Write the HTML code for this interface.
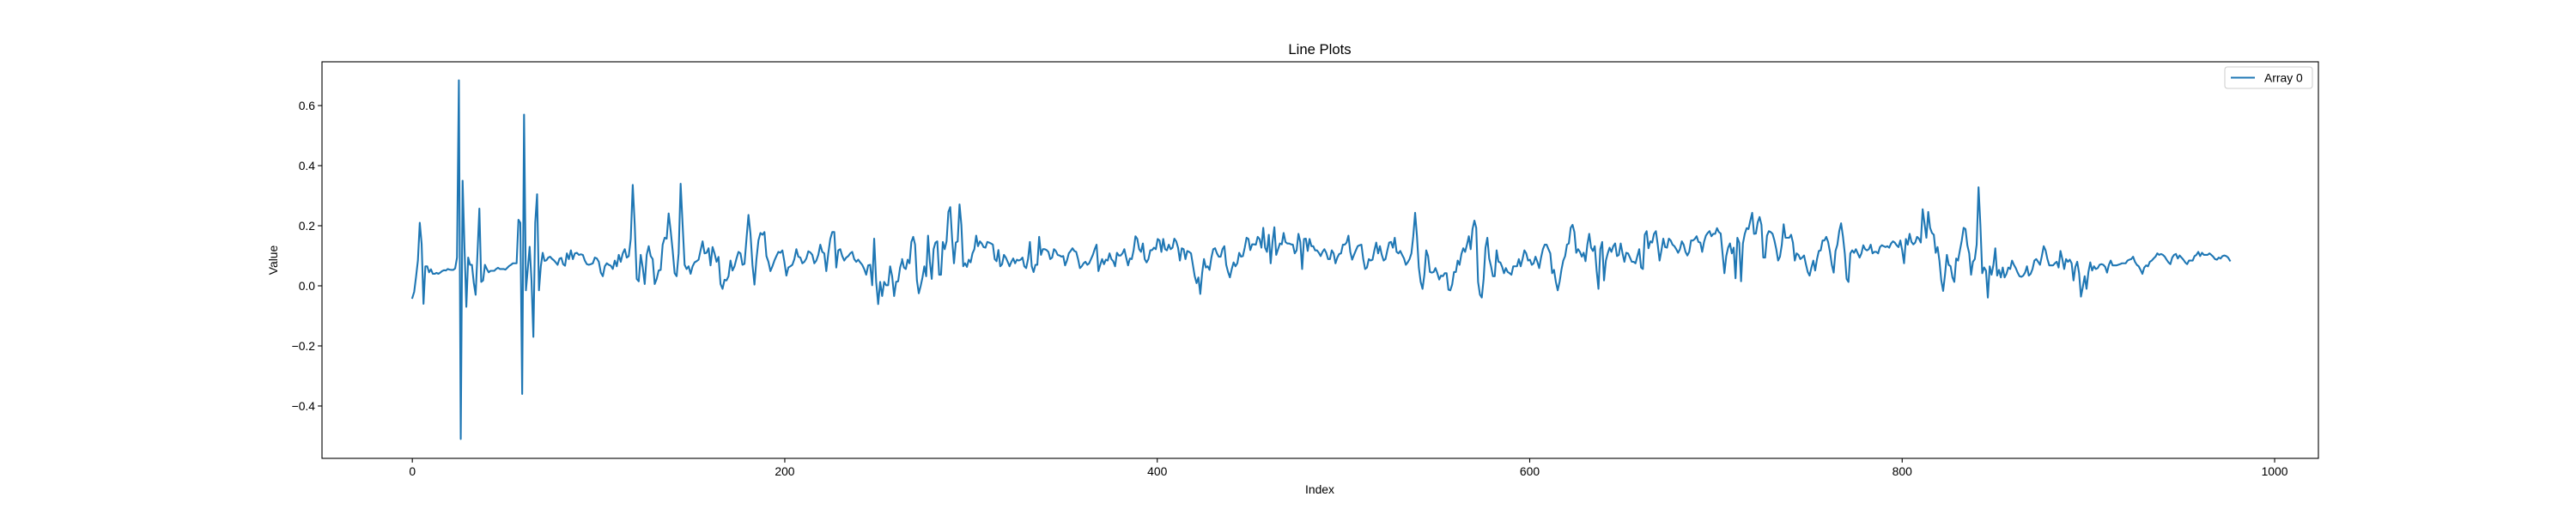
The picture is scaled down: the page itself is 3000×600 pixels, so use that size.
<!DOCTYPE html>
<html><head><meta charset="utf-8"><title>Line Plots</title>
<style>
html,body{margin:0;padding:0;background:#fff;}
svg{display:block;font-family:"Liberation Sans","DejaVu Sans",sans-serif;}
</style></head>
<body>
<svg id="chart" width="3000" height="600" viewBox="0 0 3000 600" xmlns="http://www.w3.org/2000/svg">
<rect x="0" y="0" width="3000" height="600" fill="#fff"/>
<text x="1537" y="63" text-anchor="middle" font-size="16.7" fill="#000">Line Plots</text>
<g id="xticks"></g>
<g id="yticks"></g>
<text x="1537" y="575" text-anchor="middle" font-size="13.9" fill="#000">Index</text>
<text x="0" y="0" transform="translate(323,303) rotate(-90)" text-anchor="middle" font-size="13.9" fill="#000">Value</text>
<g id="series"></g>
<rect x="375" y="72" width="2325" height="462" fill="none" stroke="#000" stroke-width="1.1"/>
<g>
<rect x="2591" y="78" width="102" height="25" rx="3" fill="#fff" fill-opacity="0.8" stroke="#ccc" stroke-width="1"/>
<line x1="2598" y1="90.5" x2="2626" y2="90.5" stroke="#1f77b4" stroke-width="2.1"/>
<text x="2637" y="95.5" font-size="13.9" fill="#000">Array 0</text>
</g>
</svg>
<script>
const xTickValues = [0, 200, 400, 600, 800, 1000];
const yTickValues = [-0.4, -0.2, 0.0, 0.2, 0.4, 0.6];
const yTickLabels = ["−0.4", "−0.2", "0.0", "0.2", "0.4", "0.6"];
// index range covered by each sampled segment
const segStarts = [0, 83, 263, 443, 623, 803];
const segEnds = [82, 263, 442, 622, 802, 976];
const seg1 = [-0.04,-0.02,0.03,0.085,0.21,0.14,-0.06,0.065,0.065,0.045,0.055,0.04,0.04,0.043,0.04,0.044,0.049,0.052,0.051,0.056,0.054,0.053,0.053,0.058,0.094,0.684,-0.51,0.35,0.13,-0.07,0.094,0.07,0.07,0.01,-0.03,0.11,0.257,0.013,0.018,0.07,0.056,0.045,0.05,0.05,0.05,0.056,0.06,0.056,0.056,0.056,0.054,0.06,0.066,0.07,0.075,0.075,0.075,0.22,0.21,-0.36,0.57,-0.015,0.056,0.13,0.018,-0.17,0.21,0.305,-0.015,0.065,0.11,0.083,0.085,0.094,0.097,0.09,0.085,0.078,0.07,0.09,0.093,0.072,0.067];
const seg2 = [0.108,0.089,0.118,0.089,0.108,0.110,0.103,0.105,0.103,0.084,0.072,0.070,0.072,0.075,0.094,0.091,0.080,0.044,0.032,0.065,0.075,0.070,0.067,0.056,0.084,0.065,0.103,0.080,0.108,0.122,0.094,0.099,0.156,0.336,0.203,0.023,0.015,0.103,0.061,0.006,0.103,0.132,0.099,0.089,0.006,0.023,0.051,0.053,0.137,0.160,0.157,0.241,0.184,0.118,0.042,0.032,0.108,0.340,0.203,0.070,0.056,0.065,0.040,0.065,0.078,0.082,0.087,0.118,0.148,0.108,0.110,0.125,0.068,0.129,0.108,0.080,0.096,0.006,-0.010,0.020,0.018,0.032,0.084,0.051,0.065,0.091,0.113,0.108,0.070,0.073,0.156,0.236,0.174,0.070,0.004,0.089,0.151,0.176,0.170,0.179,0.099,0.080,0.049,0.065,0.084,0.099,0.113,0.110,0.118,0.080,0.034,0.061,0.065,0.070,0.089,0.122,0.097,0.094,0.075,0.080,0.091,0.115,0.111,0.103,0.075,0.084,0.103,0.137,0.113,0.108,0.049,0.108,0.156,0.179,0.179,0.061,0.118,0.122,0.099,0.084,0.094,0.099,0.108,0.113,0.089,0.080,0.087,0.078,0.070,0.056,0.037,0.068,0.070,0.002,0.157,0.013,-0.061,0.013,-0.034,0.013,0.002,0.002,0.065,0.032,-0.034,0.013,0.015,0.061,0.084];
const seg3 = [0.089,0.061,0.056,0.087,0.075,0.146,0.163,0.137,0.018,-0.025,-0.001,0.028,0.065,0.032,0.167,0.080,0.023,0.122,0.144,0.148,0.037,0.037,0.146,0.122,0.148,0.246,0.262,0.156,0.075,0.144,0.148,0.271,0.203,0.065,0.075,0.063,0.087,0.078,0.108,0.122,0.167,0.132,0.148,0.141,0.129,0.127,0.146,0.144,0.141,0.137,0.089,0.082,0.119,0.065,0.072,0.103,0.094,0.080,0.065,0.080,0.091,0.075,0.087,0.084,0.087,0.094,0.065,0.059,0.089,0.146,0.065,0.046,0.070,0.070,0.163,0.103,0.122,0.122,0.119,0.113,0.089,0.094,0.122,0.116,0.103,0.101,0.097,0.099,0.068,0.084,0.108,0.116,0.125,0.116,0.113,0.089,0.059,0.065,0.075,0.080,0.070,0.075,0.089,0.103,0.122,0.137,0.049,0.070,0.089,0.072,0.087,0.084,0.108,0.089,0.082,0.065,0.110,0.101,0.101,0.108,0.122,0.094,0.068,0.091,0.089,0.118,0.165,0.156,0.122,0.113,0.141,0.089,0.078,0.089,0.118,0.119,0.127,0.122,0.156,0.151,0.113,0.156,0.122,0.118,0.137,0.122,0.127,0.157,0.148,0.127,0.084,0.125,0.122,0.089,0.116,0.113,0.108,0.070,0.032,0.009,0.028,-0.027,0.042,0.089,0.061,0.065,0.053,0.094,0.122,0.125,0.108,0.097,0.097,0.122,0.132,0.070,0.046,0.028,0.056,0.078,0.065];
const seg4 = [0.075,0.110,0.097,0.099,0.127,0.160,0.156,0.119,0.138,0.138,0.137,0.163,0.156,0.127,0.193,0.127,0.113,0.170,0.075,0.146,0.195,0.103,0.122,0.141,0.138,0.176,0.146,0.141,0.141,0.138,0.137,0.108,0.118,0.173,0.146,0.056,0.156,0.157,0.116,0.156,0.132,0.132,0.118,0.118,0.110,0.099,0.113,0.122,0.110,0.089,0.089,0.118,0.108,0.075,0.094,0.106,0.108,0.137,0.137,0.144,0.167,0.113,0.087,0.103,0.118,0.132,0.135,0.137,0.089,0.056,0.061,0.089,0.084,0.087,0.118,0.144,0.108,0.132,0.103,0.084,0.089,0.118,0.144,0.146,0.127,0.160,0.113,0.108,0.116,0.103,0.091,0.070,0.078,0.089,0.108,0.165,0.243,0.165,0.061,0.013,-0.010,0.037,0.118,0.099,0.046,0.044,0.046,0.059,0.042,0.021,0.034,0.032,0.042,0.042,-0.013,-0.015,0.004,0.046,0.046,0.084,0.070,0.106,0.125,0.113,0.137,0.165,0.122,0.189,0.217,0.193,0.013,-0.029,-0.039,0.023,0.127,0.160,0.091,0.065,0.032,0.032,0.118,0.080,0.078,0.063,0.042,0.059,0.046,0.042,0.037,0.065,0.065,0.065,0.089,0.065,0.089,0.118,0.108,0.084,0.087,0.070,0.075,0.097,0.080,0.059,0.094,0.122,0.137,0.137,0.122,0.108,0.042,0.053,0.013,-0.015,0.013,0.053,0.084,0.099,0.137,0.141,0.193];
const seg5 = [0.203,0.179,0.110,0.122,0.113,0.097,0.110,0.082,0.137,0.173,0.127,0.116,0.132,0.051,-0.010,0.122,0.146,0.018,0.084,0.108,0.127,0.113,0.132,0.141,0.099,0.103,0.141,0.108,0.080,0.110,0.108,0.094,0.080,0.080,0.075,0.099,0.122,0.061,0.056,0.170,0.182,0.125,0.148,0.144,0.173,0.182,0.137,0.084,0.118,0.157,0.129,0.127,0.157,0.151,0.137,0.132,0.122,0.110,0.122,0.148,0.137,0.113,0.101,0.113,0.151,0.151,0.156,0.165,0.146,0.144,0.113,0.146,0.167,0.176,0.182,0.165,0.173,0.173,0.192,0.179,0.174,0.108,0.042,0.099,0.127,0.141,0.108,0.127,0.025,0.160,0.144,0.015,0.141,0.173,0.192,0.189,0.217,0.243,0.173,0.174,0.212,0.229,0.203,0.094,0.094,0.167,0.182,0.179,0.173,0.151,0.122,0.084,0.097,0.137,0.205,0.160,0.160,0.160,0.170,0.144,0.084,0.108,0.103,0.089,0.094,0.101,0.072,0.046,0.034,0.061,0.084,0.051,0.089,0.116,0.118,0.151,0.151,0.163,0.146,0.113,0.070,0.044,0.116,0.137,0.182,0.208,0.165,0.108,0.023,0.013,0.108,0.118,0.110,0.122,0.108,0.094,0.108,0.135,0.122,0.118,0.122,0.137,0.108,0.113,0.113,0.108,0.129,0.135,0.132,0.129,0.132,0.127,0.141,0.148,0.144,0.135,0.129,0.151,0.118,0.075,0.156];
const seg6 = [0.137,0.173,0.146,0.138,0.144,0.163,0.157,0.144,0.255,0.208,0.160,0.246,0.193,0.176,0.170,0.110,0.129,0.084,0.018,-0.017,0.037,0.103,0.070,0.065,0.028,0.013,0.091,0.084,0.118,0.151,0.193,0.189,0.135,0.108,0.037,0.080,0.089,0.137,0.328,0.203,0.042,0.061,0.051,-0.039,0.065,0.037,0.070,0.125,0.034,0.053,0.028,0.061,0.028,0.040,0.061,0.056,0.084,0.070,0.059,0.044,0.032,0.030,0.034,0.044,0.065,0.034,0.040,0.056,0.084,0.089,0.080,0.070,0.099,0.132,0.118,0.089,0.068,0.068,0.068,0.075,0.080,0.061,0.116,0.089,0.056,0.089,0.080,0.087,0.075,0.018,0.063,0.080,0.042,-0.036,-0.004,0.032,-0.010,0.046,0.078,0.051,0.065,0.056,0.059,0.070,0.072,0.070,0.063,0.044,0.070,0.084,0.068,0.068,0.068,0.070,0.072,0.075,0.075,0.075,0.084,0.087,0.089,0.097,0.080,0.070,0.065,0.053,0.040,0.061,0.068,0.065,0.080,0.084,0.091,0.097,0.108,0.103,0.106,0.103,0.097,0.087,0.078,0.072,0.094,0.103,0.106,0.091,0.101,0.094,0.087,0.078,0.072,0.084,0.084,0.084,0.099,0.103,0.113,0.099,0.110,0.103,0.103,0.103,0.108,0.103,0.097,0.089,0.087,0.094,0.091,0.099,0.101,0.099,0.094,0.084];
const segments = [seg1, seg2, seg3, seg4, seg5, seg6];

const X0 = 375, X1 = 2700, Y0 = 72, Y1 = 534;
const xMin = -48.5, xMax = 1023.5;
const yMin = -0.5743, yMax = 0.7457;
function xs(v){ return X0 + (v - xMin) / (xMax - xMin) * (X1 - X0); }
function ys(v){ return Y1 - (v - yMin) / (yMax - yMin) * (Y1 - Y0); }
const NS = "http://www.w3.org/2000/svg";

const xg = document.getElementById("xticks");
xTickValues.forEach(function(t){
  const x = xs(t);
  const ln = document.createElementNS(NS, "line");
  ln.setAttribute("x1", x); ln.setAttribute("x2", x);
  ln.setAttribute("y1", Y1); ln.setAttribute("y2", Y1 + 4.9);
  ln.setAttribute("stroke", "#000"); ln.setAttribute("stroke-width", "1.1");
  
  
  xg.appendChild(ln);
  const tx = document.createElementNS(NS, "text");
  tx.setAttribute("x", x); tx.setAttribute("y", Y1 + 20);
  tx.setAttribute("text-anchor", "middle"); tx.setAttribute("font-size", "13.9");
  tx.textContent = String(t);
  
  
  xg.appendChild(tx);
});

const yg = document.getElementById("yticks");
yTickValues.forEach(function(t, k){
  const y = ys(t);
  const ln = document.createElementNS(NS, "line");
  ln.setAttribute("x1", X0 - 4.9); ln.setAttribute("x2", X0);
  ln.setAttribute("y1", y); ln.setAttribute("y2", y);
  ln.setAttribute("stroke", "#000"); ln.setAttribute("stroke-width", "1.1");
  
  
  yg.appendChild(ln);
  const tx = document.createElementNS(NS, "text");
  tx.setAttribute("x", X0 - 8); tx.setAttribute("y", y + 5);
  tx.setAttribute("text-anchor", "end"); tx.setAttribute("font-size", "13.9");
  tx.textContent = yTickLabels[k];
  
  
  yg.appendChild(tx);
});

const sg = document.getElementById("series");
let d = "";
let first = true;
segments.forEach(function(seg, s){
  const a = segStarts[s], b = segEnds[s];
  const step = (b - a) / Math.max(1, seg.length - 1);
  seg.forEach(function(v, j){
    const idx = a + j * step;
    d += (first ? "M" : "L") + xs(idx).toFixed(2) + "," + ys(v).toFixed(2);
    first = false;
  });
});
const path = document.createElementNS(NS, "path");
path.setAttribute("d", d);
path.setAttribute("fill", "none");
path.setAttribute("stroke", "#1f77b4");
path.setAttribute("stroke-width", "2.1");
path.setAttribute("stroke-linejoin", "round");
path.setAttribute("stroke-linecap", "square");


sg.appendChild(path);
</script>
</body></html>
